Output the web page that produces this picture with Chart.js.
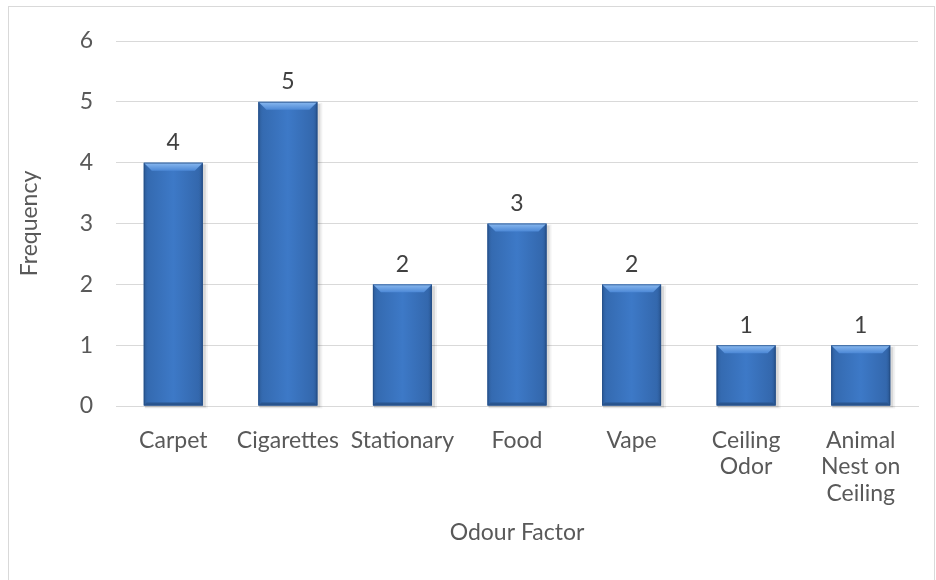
<!DOCTYPE html>
<html>
<head>
<meta charset="utf-8">
<script src="https://cdn.jsdelivr.net/npm/chart.js@4/dist/chart.umd.min.js"></script>
<style>
  html, body { margin: 0; padding: 0; background: #ffffff; }
  #wrap { position: relative; width: 936px; height: 580px; overflow: hidden; }
  canvas { display: block; }
</style>
</head>
<body>
<div id="wrap"><canvas id="chart" width="936" height="580"></canvas></div>
<script>
// Odour factors reported and how often each was mentioned
const categories = ['Carpet', 'Cigarettes', 'Stationary', 'Food', 'Vape', ['Ceiling', 'Odor'], ['Animal', 'Nest on', 'Ceiling']];
const frequency = [4, 5, 2, 3, 2, 1, 1];
const yTickMin = 0;
const yTickMax = 6;
const yTickStep = 1;

const FONT = 'Lato, "Open Sans", sans-serif';
const FONT_SIZE = 23;
const TEXT = '#595959';
const GRID = '#d9d9d9';

// Light grey frame around the whole chart
const framePlugin = {
  id: 'frame',
  beforeDraw(chart) {
    const ctx = chart.ctx;
    ctx.save();
    ctx.fillStyle = '#ffffff';
    ctx.fillRect(0, 0, chart.width, chart.height);
    ctx.strokeStyle = '#d9d9d9';
    ctx.lineWidth = 1;
    ctx.strokeRect(8.5, 6.5, 926, 620);
    ctx.restore();
  }
};

// Bevelled look for each bar: soft shadow, lit top edge, darker sides
const bevelPlugin = {
  id: 'bevel',
  beforeDatasetsDraw(chart) {
    const ctx = chart.ctx;
    const meta = chart.getDatasetMeta(0);
    ctx.save();
    meta.data.forEach(bar => {
      const w = bar.width;
      const x0 = bar.x - w / 2;
      const y0 = bar.y;
      const h = bar.base - bar.y;
      ctx.fillStyle = 'rgba(0,0,0,0.10)';
      ctx.fillRect(x0 + 1, y0 + 2, w + 2, h);
      ctx.fillStyle = 'rgba(0,0,0,0.05)';
      ctx.fillRect(x0 + 1, y0 + 1, w + 4, h + 2);
    });
    ctx.restore();
  },
  afterDatasetsDraw(chart) {
    const ctx = chart.ctx;
    const meta = chart.getDatasetMeta(0);
    ctx.save();
    meta.data.forEach(bar => {
      const w = bar.width;
      const x0 = bar.x - w / 2;
      const x1 = bar.x + w / 2;
      const y0 = bar.y;
      const y1 = bar.base;
      const b = 8;

      // body: subtle horizontal shading
      const body = ctx.createLinearGradient(x0, 0, x1, 0);
      body.addColorStop(0, '#3368ad');
      body.addColorStop(0.5, '#3d79c7');
      body.addColorStop(1, '#3265a9');
      ctx.fillStyle = body;
      ctx.fillRect(x0, y0, w, y1 - y0);

      // left side
      const ls = ctx.createLinearGradient(x0, 0, x0 + 5, 0);
      ls.addColorStop(0, '#2a5690');
      ls.addColorStop(1, 'rgba(52,106,176,0)');
      ctx.fillStyle = ls;
      ctx.beginPath();
      ctx.moveTo(x0, y0); ctx.lineTo(x0 + 5, y0 + b); ctx.lineTo(x0 + 5, y1 - 3); ctx.lineTo(x0, y1);
      ctx.closePath(); ctx.fill();

      // right side
      const rs = ctx.createLinearGradient(x1 - 5, 0, x1, 0);
      rs.addColorStop(0, 'rgba(52,106,176,0)');
      rs.addColorStop(1, '#254e86');
      ctx.fillStyle = rs;
      ctx.beginPath();
      ctx.moveTo(x1, y0); ctx.lineTo(x1 - 5, y0 + b); ctx.lineTo(x1 - 5, y1 - 3); ctx.lineTo(x1, y1);
      ctx.closePath(); ctx.fill();

      // bottom edge
      ctx.fillStyle = '#2a5690';
      ctx.beginPath();
      ctx.moveTo(x0, y1); ctx.lineTo(x0 + 3, y1 - 3); ctx.lineTo(x1 - 3, y1 - 3); ctx.lineTo(x1, y1);
      ctx.closePath(); ctx.fill();

      // lit top edge
      const top = ctx.createLinearGradient(0, y0, 0, y0 + b);
      top.addColorStop(0, '#8bbaf0');
      top.addColorStop(1, '#4c88d6');
      ctx.fillStyle = top;
      ctx.beginPath();
      ctx.moveTo(x0, y0); ctx.lineTo(x1, y0); ctx.lineTo(x1 - b, y0 + b); ctx.lineTo(x0 + b, y0 + b);
      ctx.closePath(); ctx.fill();

      // thin outline
      ctx.strokeStyle = 'rgba(37,78,134,0.7)';
      ctx.lineWidth = 1;
      ctx.strokeRect(x0 + 0.5, y0 + 0.5, w - 1, y1 - y0 - 1);
    });
    ctx.restore();
  }
};

// Value written above each bar
const valueLabelPlugin = {
  id: 'valueLabels',
  afterDatasetsDraw(chart) {
    const ctx = chart.ctx;
    const meta = chart.getDatasetMeta(0);
    const values = chart.data.datasets[0].data;
    ctx.save();
    ctx.font = FONT_SIZE + 'px ' + FONT;
    ctx.fillStyle = '#404040';
    ctx.textAlign = 'center';
    ctx.textBaseline = 'middle';
    meta.data.forEach((bar, i) => {
      ctx.fillText(String(values[i]), bar.x, bar.y - 20);
    });
    ctx.restore();
  }
};

new Chart(document.getElementById('chart'), {
  type: 'bar',
  data: {
    labels: categories,
    datasets: [{
      label: 'Frequency',
      data: frequency,
      backgroundColor: 'rgba(0,0,0,0)',
      borderWidth: 0,
      barPercentage: 0.515,
      categoryPercentage: 1
    }]
  },
  options: {
    responsive: false,
    animation: false,
    devicePixelRatio: 1,
    layout: { padding: { top: 41, right: 18, bottom: 30, left: 0 } },
    plugins: {
      legend: { display: false },
      tooltip: { enabled: false }
    },
    scales: {
      x: {
        grid: { display: false, drawTicks: false },
        border: { display: true, color: GRID, width: 1 },
        ticks: {
          color: TEXT,
          font: { family: FONT, size: FONT_SIZE, lineHeight: 1.15 },
          padding: 21,
          maxRotation: 0,
          autoSkip: false
        },
        title: {
          display: true,
          text: 'Odour Factor',
          color: TEXT,
          font: { family: FONT, size: FONT_SIZE },
          padding: { top: 10, bottom: 4 }
        },
        afterFit(scale) { scale.height = 144; }
      },
      y: {
        min: yTickMin,
        max: yTickMax,
        grid: { color: GRID, lineWidth: 1, drawTicks: false },
        border: { display: false },
        ticks: {
          stepSize: yTickStep,
          color: TEXT,
          font: { family: FONT, size: FONT_SIZE },
          padding: 23
        },
        title: {
          display: true,
          text: 'Frequency',
          color: TEXT,
          font: { family: FONT, size: FONT_SIZE },
          padding: { top: 16, bottom: 4 }
        },
        afterFit(scale) { scale.width = 116; }
      }
    }
  },
  plugins: [framePlugin, bevelPlugin, valueLabelPlugin]
});
</script>
</body>
</html>
